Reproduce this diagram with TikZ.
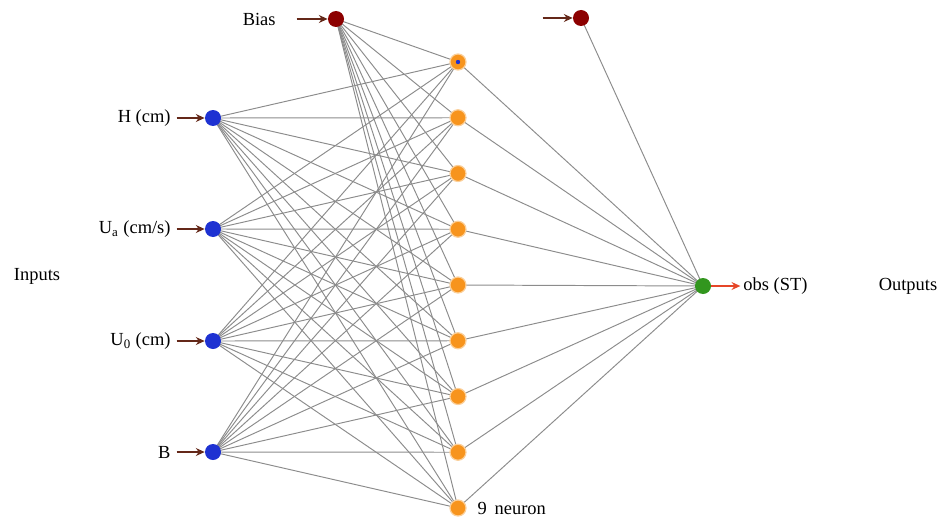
\documentclass[tikz,border=0pt]{standalone}
\usepackage{fontspec}
\setmainfont{Liberation Serif}
\usetikzlibrary{arrows,arrows.meta,positioning,backgrounds}
\definecolor{inblue}{RGB}{30,50,210}
\definecolor{hidorange}{RGB}{247,148,29}
\definecolor{biasred}{RGB}{140,0,0}
\definecolor{outgreen}{RGB}{50,150,30}
\definecolor{linkgray}{RGB}{140,140,140}
\definecolor{feedbrown}{RGB}{100,40,25}
\definecolor{outred}{RGB}{230,70,40}
\tikzset{%
	unit/.style       = {circle, minimum size=0.32cm, inner sep=0pt}, % neuron
	inputunit/.style  = {unit, fill=inblue},
	hiddenunit/.style = {unit, fill=hidorange, draw=hidorange!45, line width=0.7pt},
	biasunit/.style   = {unit, fill=biasred},
	outunit/.style    = {unit, fill=outgreen},
	link/.style       = {draw=linkgray, line width=0.55pt},
	feed/.style       = {line width=1pt, -{Stealth[length=5pt,width=4.5pt]}, draw=feedbrown},
	tag/.style        = {inner sep=1pt, font=\fontsize{10.5}{12}\selectfont},
}

\begin{document}
\begin{tikzpicture}[x=0.02cm,y=-0.02cm]
		\useasboundingbox (0,0) rectangle (945,517);
		% input layer
		\node [inputunit] (in1) at (213,118) {};
		\node [inputunit] (in2) at (213,229) {};
		\node [inputunit] (in3) at (213,341) {};
		\node [inputunit] (in4) at (213,452) {};
		% hidden layer
		\foreach \i in {1,...,9}
			\node [hiddenunit] (hid\i) at (458,{62+(\i-1)*55.75}) {};
		\node [circle, fill=inblue, inner sep=0pt, minimum size=2.5pt] (hiddot) at (hid1) {};
		% bias and output
		\node [biasunit] (bias1) at (336,19) {};
		\node [biasunit] (bias2) at (581,18) {};
		\node [outunit] (out) at (703,286) {};
		
		\begin{scope}[on background layer]
			\foreach \i in {1,...,9} {
				\foreach \s in {bias1,in1,in2,in3,in4}
					\draw [link] (\s.center) -- (hid\i.center);
				\draw [link] (hid\i.center) -- (out.center);
			}
			\draw [link] (bias2.center) -- (out.center);
		\end{scope}
		
		% feeding arrows
		\coordinate [left=0.56cm of in1] (src1);
		\coordinate [left=0.56cm of in2] (src2);
		\coordinate [left=0.56cm of in3] (src3);
		\coordinate [left=0.56cm of in4] (src4);
		\coordinate [left=0.62cm of bias1] (srcb1);
		\coordinate [left=0.6cm of bias2] (srcb2);
		\coordinate [right=0.58cm of out] (dst);
		\draw [feed] (src1) -- (in1);
		\draw [feed] (src2) -- (in2);
		\draw [feed] (src3) -- (in3);
		\draw [feed] (src4) -- (in4);
		\draw [feed] (srcb1) -- (bias1);
		\draw [feed] (srcb2) -- (bias2);
		\draw [feed, draw=outred] (out) -- (dst);
		
		\node [tag, left=0.08cm of src1] (lblh) {H (cm)};
		\node [tag, left=0.08cm of src2] (lblua) {U\textsubscript{a} (cm/s)};
		\node [tag, left=0.08cm of src3] (lbluo) {U\textsubscript{0} (cm)};
		\node [tag, left=0.08cm of src4] (lblb) {B};
		\node [tag, left=0.38cm of srcb1] (lblbias) {Bias};
		\node [tag, right=0.02cm of dst] (lblobs) {obs (ST)};
		\node [tag, right=0.18cm of hid9] (lblnine) {9\, neuron};
		\node [tag] (lblin) at (37,276) {Inputs};
		\node [tag] (lblout) at (908,286) {Outputs};
		\end{tikzpicture}
\end{document}
